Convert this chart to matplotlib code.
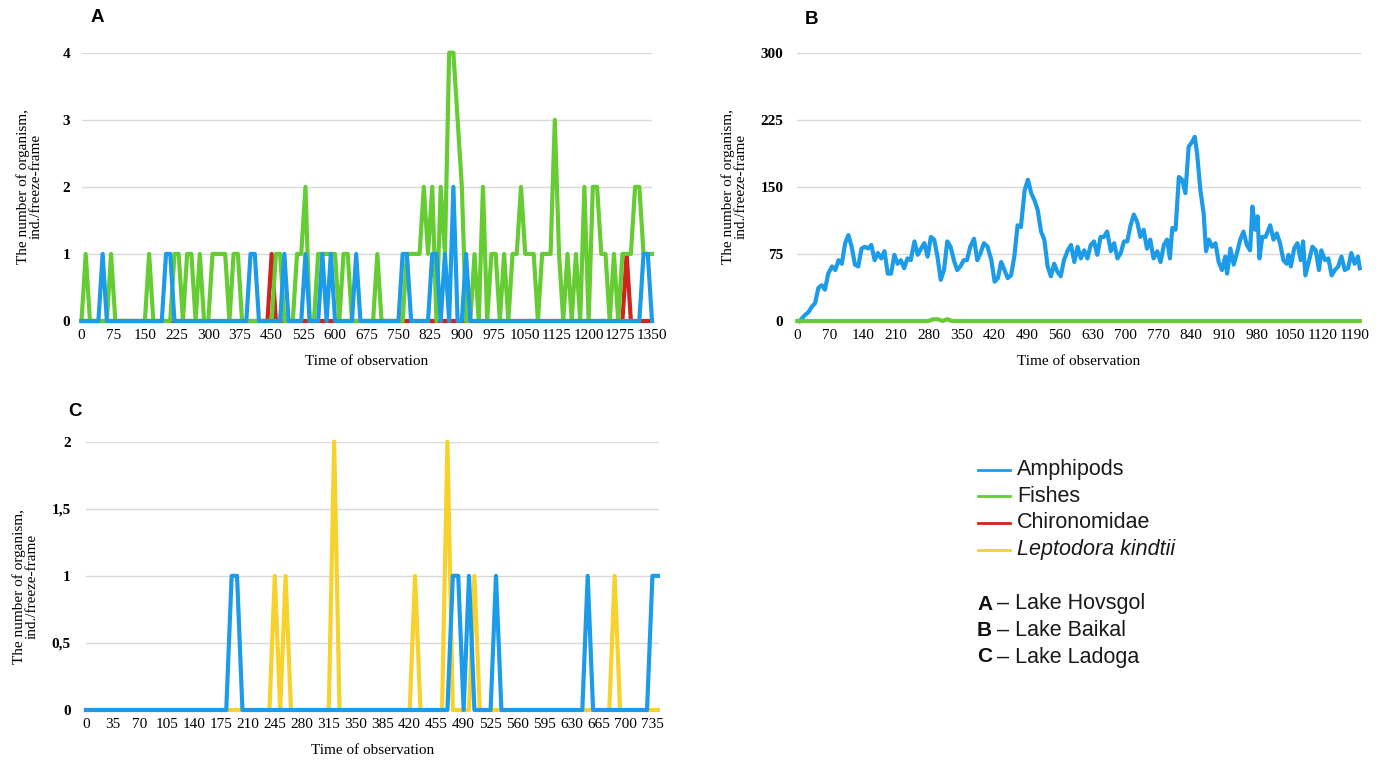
import numpy as np
import matplotlib
matplotlib.use("Agg")
import matplotlib.pyplot as plt
from matplotlib.lines import Line2D

# ---- data ---------------------------------------------------------------
# A - Lake Hovsgol, sampled every 10 time units, only non-zero frames listed
a_step, a_end = 10, 1350
a_fish_t = [10, 70, 160, 220, 230, 250, 260, 280, 310, 320, 330, 340, 360, 370,
            460, 470, 510, 520, 530, 560, 570, 580, 590, 600, 620, 630, 700,
            770, 780, 790, 800, 810, 820, 830, 850, 860, 870, 880, 890, 900,
            930, 950, 970, 980, 1000, 1020, 1030, 1040, 1050, 1060, 1070,
            1090, 1100, 1110, 1120, 1130, 1150, 1170, 1190, 1210, 1220, 1230,
            1240, 1260, 1280, 1290, 1300, 1310, 1320, 1330, 1340, 1350]
a_fish_v = [1, 1, 1, 1, 1, 1, 1, 1, 1, 1, 1, 1, 1, 1,
            1, 1, 1, 1, 2, 1, 1, 1, 1, 1, 1, 1, 1,
            1, 1, 1, 1, 2, 1, 2, 2, 1, 4, 4, 3, 2,
            1, 2, 1, 1, 1, 1, 1, 2, 1, 1, 1,
            1, 1, 1, 3, 1, 1, 1, 2, 2, 2, 1,
            1, 1, 1, 1, 1, 2, 2, 1, 1, 1]
a_amph_t = [50, 200, 210, 400, 410, 480, 530, 570, 590, 650, 760, 770,
            830, 840, 860, 880, 910, 1330, 1340]
a_amph_v = [1, 1, 1, 1, 1, 1, 1, 1, 1, 1, 1, 1,
            1, 1, 1, 2, 1, 1, 1]
a_chir_t = [450, 1290]
a_chir_v = [1, 1]

# B - Lake Baikal, amphipods
b_time = [5, 17, 24, 31, 38, 45, 52, 59, 66, 74, 81, 88, 95, 102, 109, 116,
          123, 130, 137, 144, 151, 158, 165, 172, 179, 186, 193, 200, 207,
          214, 221, 228, 235, 242, 250, 257, 264, 271, 278, 285, 292, 299,
          306, 313, 320, 327, 334, 341, 348, 355, 362, 369, 377, 384, 391,
          398, 406, 414, 421, 428, 435, 442, 449, 456, 463, 470, 477, 485,
          492, 499, 506, 513, 520, 527, 534, 541, 548, 555, 562, 569, 577,
          584, 591, 598, 605, 612, 619, 626, 633, 640, 647, 654, 661, 669,
          676, 683, 690, 697, 704, 711, 718, 725, 732, 739, 746, 753, 760,
          768, 775, 782, 789, 795, 800, 807, 814, 821, 828, 835, 842, 848,
          853, 860, 867, 872, 878, 885, 892, 899, 906, 913, 917, 924, 931,
          938, 945, 952, 959, 966, 971, 977, 982, 986, 992, 999, 1009, 1016,
          1023, 1030, 1037, 1044, 1048, 1053, 1060, 1067, 1074, 1079, 1084,
          1091, 1099, 1106, 1113, 1118, 1126, 1133, 1140, 1147, 1154, 1161,
          1168, 1175, 1182, 1189, 1196, 1200]
b_amph = [0, 7, 10, 16, 20, 37, 40, 35, 53, 61, 57, 68, 64, 87, 96, 83,
          63, 61, 81, 83, 81, 85, 68, 76, 70, 78, 53, 53, 74,
          64, 68, 59, 70, 68, 89, 74, 81, 87, 72, 94, 91, 72,
          46, 57, 89, 83, 68, 57, 61, 68, 68, 83, 92, 68, 76,
          87, 83, 68, 44, 48, 66, 57, 48, 51, 72, 107, 105, 146,
          158, 143, 135, 124, 100, 91, 61, 50, 64, 55, 50, 68, 79,
          85, 66, 83, 70, 79, 70, 85, 89, 74, 94, 94, 100, 78,
          87, 70, 76, 89, 89, 107, 119, 111, 94, 102, 81, 91, 70,
          78, 66, 85, 91, 70, 104, 102, 161, 158, 143, 195, 200, 206,
          187, 146, 120, 78, 91, 83, 87, 66, 57, 72, 53, 81, 63,
          76, 91, 100, 85, 79, 128, 102, 117, 70, 94, 94, 107, 91,
          98, 87, 68, 64, 74, 61, 81, 87, 68, 89, 51,
          66, 83, 79, 57, 79, 68, 70, 51, 57, 61, 72,
          57, 59, 76, 64, 72, 59]
b_step, b_end = 10, 1200
b_fish_t = [290, 300, 320]
b_fish_v = [2, 2, 2]

# C - Lake Ladoga, sampled every 7 time units
c_step, c_end = 7, 742
c_amph_t = [189, 196, 476, 483, 497, 532, 651, 735, 742]
c_amph_v = [1, 1, 1, 1, 1, 1, 1, 1, 1]
c_lept_t = [245, 259, 322, 427, 469, 504, 686]
c_lept_v = [1, 1, 2, 1, 2, 1, 1]

legend_names = ["Amphipods", "Fishes", "Chironomidae", "Leptodora kindtii"]
lakes = [("A", "Lake Hovsgol"), ("B", "Lake Baikal"), ("C", "Lake Ladoga")]

# ---- style ----------------------------------------------------------------
BLUE = "#1c9be8"
GREEN = "#66cc33"
RED = "#d0241c"
YELLOW = "#f8d22c"
GRID = "#d9d9d9"
SERIF = "Liberation Serif"
SANS = "Liberation Sans"
LW = 3.0

W, H = 1383, 762


def on_grid(step, end, ev_t, ev_v):
    t = np.arange(0, end + 1, step)
    v = np.zeros(len(t))
    v[np.array(ev_t) // step] = ev_v
    return t, v


def axes_px(fig, left, right, top, bottom):
    return fig.add_axes([left / W, 1 - bottom / H, (right - left) / W, (bottom - top) / H])


def style_axes(ax, xticks, yticks, ylabels, xlim, ylim, ypad, ylab_x, ylab_y=0.5):
    ax.set_xlim(*xlim)
    ax.set_ylim(*ylim)
    for s in ax.spines.values():
        s.set_visible(False)
    ax.set_xticks(xticks)
    ax.set_xticklabels([str(x) for x in xticks], fontfamily=SERIF, fontsize=11)
    ax.set_yticks(yticks)
    ax.set_yticklabels(ylabels, fontfamily=SERIF, fontsize=11, fontweight="bold")
    ax.tick_params(axis="both", length=0)
    ax.tick_params(axis="x", pad=6)
    ax.tick_params(axis="y", pad=ypad)
    ax.grid(axis="y", color=GRID, linewidth=1.0)
    ax.set_axisbelow(True)
    ax.set_xlabel("Time of observation", fontfamily=SERIF, fontsize=11)
    ax.xaxis.set_label_coords(0.5, -0.125)
    ax.set_ylabel("The number of organism,\nind./freeze-frame", fontfamily=SERIF,
                  fontsize=11, linespacing=1.0)
    ax.yaxis.set_label_coords(ylab_x, ylab_y)


fig = plt.figure(figsize=(W / 100, H / 100), dpi=100)

# ---- A --------------------------------------------------------------------
axA = axes_px(fig, 81.5, 652, 52.7, 321)
t, v = on_grid(a_step, a_end, a_chir_t, a_chir_v)
axA.plot(t, v, color=RED, lw=LW, clip_on=False)
t, v = on_grid(a_step, a_end, a_fish_t, a_fish_v)
axA.plot(t, v, color=GREEN, lw=LW, clip_on=False)
t, v = on_grid(a_step, a_end, a_amph_t, a_amph_v)
axA.plot(t, v, color=BLUE, lw=LW, clip_on=False)
style_axes(axA, list(range(0, 1351, 75)), [0, 1, 2, 3, 4], ["0", "1", "2", "3", "4"],
           (0, 1350), (0, 4), 8, -0.068)

# ---- B --------------------------------------------------------------------
axB = axes_px(fig, 797.3, 1360.7, 52.7, 321)
axB.plot(b_time, b_amph, color=BLUE, lw=LW, clip_on=False)
t, v = on_grid(b_step, b_end, b_fish_t, b_fish_v)
axB.plot(t, v, color=GREEN, lw=LW, clip_on=False)
style_axes(axB, list(range(0, 1191, 70)), [0, 75, 150, 225, 300],
           ["0", "75", "150", "225", "300"], (0, 1202), (0, 300), 10, -0.088)

# ---- C --------------------------------------------------------------------
axC = axes_px(fig, 86, 658.6, 441.7, 710)
t, v = on_grid(c_step, c_end, c_lept_t, c_lept_v)
axC.plot(t, v, color=YELLOW, lw=LW, clip_on=False)
t, v = on_grid(c_step, c_end, c_amph_t, c_amph_v)
axC.plot(t, v, color=BLUE, lw=LW, clip_on=False)
style_axes(axC, list(range(0, 736, 35)), [0, 0.5, 1, 1.5, 2],
           ["0", "0,5", "1", "1,5", "2"], (0, 743), (0, 2), 11, -0.082, 0.46)

# panel letters
for letter, x, y in [("A", 97, 18), ("B", 812, 19), ("C", 75, 411)]:
    fig.text(x / W, 1 - y / H, letter, fontfamily=SANS, fontsize=13.5,
             fontweight="bold", ha="center", va="center")

# ---- legend (drawn by hand to keep the layout of the original) ------------
colors = [BLUE, GREEN, RED, YELLOW]
rows_y = [470, 496.5, 523, 549.5]
for name, c, y in zip(legend_names, colors, rows_y):
    fig.add_artist(Line2D([978 / W, 1010 / W], [1 - y / H, 1 - y / H], color=c,
                          lw=2.0, transform=fig.transFigure))
    fig.text(1017 / W, 1 - y / H, name, fontfamily=SANS, fontsize=15.5,
             va="center", ha="left", color="#1a1a1a",
             fontstyle="italic" if name.startswith("Leptodora") else "normal")

for (letter, lake), y in zip(lakes, [604, 630.5, 657]):
    fig.text(977 / W, 1 - y / H, letter, fontfamily=SANS, fontsize=15,
             fontweight="bold", va="center", ha="left", color="#111111")
    fig.text(997 / W, 1 - y / H, "\u2013 " + lake, fontfamily=SANS, fontsize=15.5,
             va="center", ha="left", color="#1a1a1a")

fig.savefig("out.png", dpi=100)
